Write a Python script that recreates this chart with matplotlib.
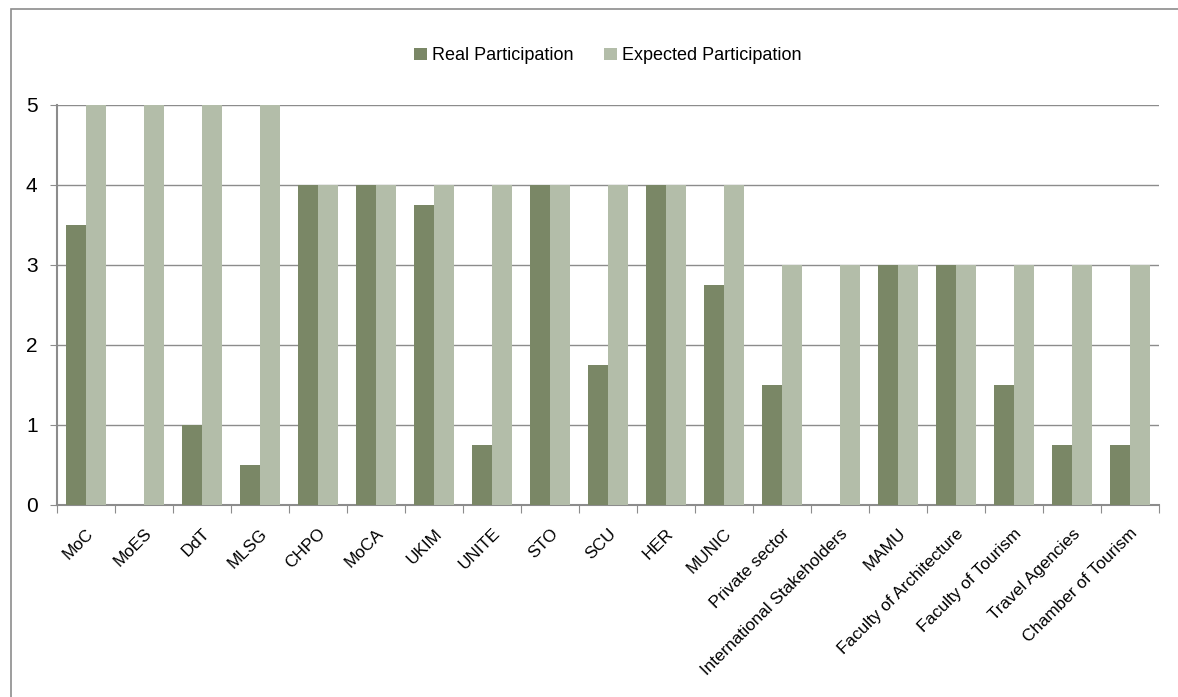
import matplotlib.pyplot as plt
import numpy as np
from matplotlib.patches import Rectangle

categories = ['MoC', 'MoES', 'DdT', 'MLSG', 'CHPO', 'MoCA', 'UKIM', 'UNITE', 'STO',
              'SCU', 'HER', 'MUNIC', 'Private sector', 'International Stakeholders',
              'MAMU', 'Faculty of Architecture', 'Faculty of Tourism',
              'Travel Agencies', 'Chamber of Tourism']
real = [3.5, 0, 1, 0.5, 4, 4, 3.75, 0.75, 4, 1.75, 4, 2.75, 1.5, 0, 3, 3, 1.5, 0.75, 0.75]
expected = [5, 5, 5, 5, 4, 4, 4, 4, 4, 4, 4, 4, 3, 3, 3, 3, 3, 3, 3]

plt.rcParams['font.family'] = ['Liberation Sans', 'DejaVu Sans']

fig = plt.figure(figsize=(11.78, 6.97), dpi=100)
ax = fig.add_axes([57 / 1178, 1 - 505 / 697, (1159 - 57) / 1178, 400 / 697])

x = np.arange(len(categories))
w = 0.345
ax.bar(x - w / 2, real, w, color='#7a8766', label='Real Participation', zorder=3)
ax.bar(x + w / 2, expected, w, color='#b3bda9', label='Expected Participation', zorder=3)

ax.set_xlim(-0.5, len(categories) - 0.5)
ax.set_ylim(0, 5)
ax.set_yticks(range(6))
ax.yaxis.grid(True, color='#8c8c8c', linewidth=1)
ax.set_axisbelow(True)

# group boundaries get the tick marks, category centres get the labels
ax.set_xticks(np.arange(len(categories) + 1) - 0.5)
ax.set_xticklabels([])
ax.set_xticks(x, minor=True)
ax.set_xticklabels(categories, minor=True, rotation=45, ha='right', va='top',
                   rotation_mode='anchor', fontsize=12.3)
ax.tick_params(axis='x', which='minor', length=0, pad=15)
ax.tick_params(axis='x', which='major', length=6, color='#8c8c8c')
ax.tick_params(axis='y', length=5, color='#8c8c8c', labelsize=15, pad=9)

for s in ['top', 'right']:
    ax.spines[s].set_visible(False)
for s in ['left', 'bottom']:
    ax.spines[s].set_color('#8c8c8c')
    ax.spines[s].set_linewidth(1.5)

ax.legend(loc='upper center', bbox_to_anchor=(0.5, 1.185), ncol=2, frameon=False,
          fontsize=13, handlelength=0.7, handleheight=0.7, handletextpad=0.3,
          columnspacing=1.7)

fig.patches.append(Rectangle((11 / 1178, -0.1), 1.2, 1 - 9 / 697 + 0.1,
                             transform=fig.transFigure, fill=False,
                             edgecolor='#8c8c8c', linewidth=1.2))

fig.savefig('out.png', dpi=100)
